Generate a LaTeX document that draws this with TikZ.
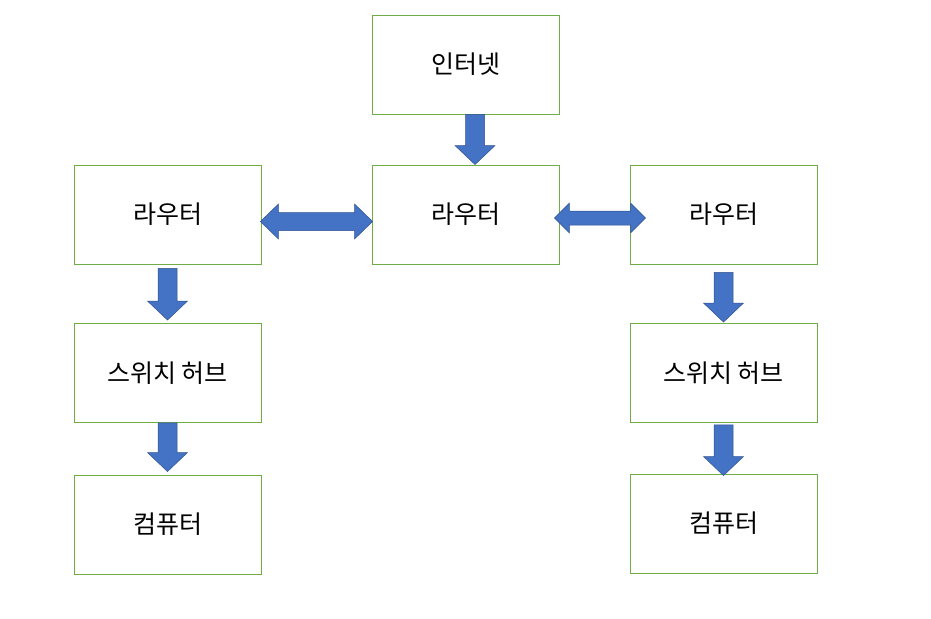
\documentclass[tikz,border=0pt]{standalone}
\usepackage{fontspec}
\setmainfont{Noto Sans CJK KR}
\usetikzlibrary{calc,positioning}

\definecolor{boxgreen}{HTML}{70AD47}
\definecolor{arrowblue}{HTML}{4472C4}
\definecolor{arrowedge}{HTML}{2F528F}

\tikzset{
    netbox/.style={draw=boxgreen, line width=0.9pt, minimum width=187pt,
        minimum height=99pt, inner sep=0pt, font=\fontsize{25}{30}\selectfont},
    blockarrow/.style={fill=arrowblue, draw=arrowedge, line width=0.5pt}
}

% fat arrow pointing down, from #1 (top) to #2 (tip)
\newcommand{\downblock}[2]{%
    \draw[blockarrow] let \p1=(#1), \p2=(#2) in
        (\x1-9.5pt,\y1) -- (\x1+9.5pt,\y1) -- (\x1+9.5pt,\y2+19pt)
        -- (\x1+20pt,\y2+19pt) -- (\x1,\y2) -- (\x1-20pt,\y2+19pt)
        -- (\x1-9.5pt,\y2+19pt) -- cycle;}

% fat double arrow, tips #1 and #2, shaft half #3, head half #4, head length #5
\newcommand{\twoblock}[5]{%
    \draw[blockarrow] let \p1=(#1), \p2=(#2) in
        (\x1,\y1) -- (\x1+#5,\y1+#4) -- (\x1+#5,\y1+#3) -- (\x2-#5,\y1+#3)
        -- (\x2-#5,\y1+#4) -- (\x2,\y1) -- (\x2-#5,\y1-#4) -- (\x2-#5,\y1-#3)
        -- (\x1+#5,\y1-#3) -- (\x1+#5,\y1-#4) -- cycle;}

\begin{document}
\begin{tikzpicture}[x=1pt, y=-1pt]
    \useasboundingbox (0, 0) rectangle (931, 618);

    \node[netbox] (net) at (465.5, 64.5) {인터넷};
    \node[netbox] (routerL) at (167.5, 214.5) {라우터};
    \node[netbox] (routerC) at (465.5, 214.5) {라우터};
    \node[netbox] (routerR) at (723.5, 214.5) {라우터};
    \node[netbox] (hubL) at (167.5, 373) {스위치 허브};
    \node[netbox] (hubR) at (723.5, 373) {스위치 허브};
    \node[netbox] (pcL) at (167.5, 524.5) {컴퓨터};
    \node[netbox] (pcR) at (723.5, 523.5) {컴퓨터};

    \downblock{$(net.south)+(9.5,0)$}{$(routerC.north)+(9.5,0)$}
    \twoblock{$(routerL.east)+(-1,7)$}{$(routerC.west)+(1,7)$}{9pt}{17.5pt}{18pt}
    \twoblock{$(routerC.east)+(-5,3.5)$}{$(routerR.west)+(16,3.5)$}{7pt}{15pt}{15pt}

    \downblock{$(routerL.south)+(0,4)$}{$(hubL.north)+(0,-3)$}
    \downblock{$(hubL.south)$}{$(pcL.north)+(0,-3)$}
    \downblock{$(routerR.south)+(0,8)$}{$(hubR.north)+(0,-1)$}
    \downblock{$(hubR.south)+(0,2)$}{$(pcR.north)+(0,2)$}
\end{tikzpicture}
\end{document}
